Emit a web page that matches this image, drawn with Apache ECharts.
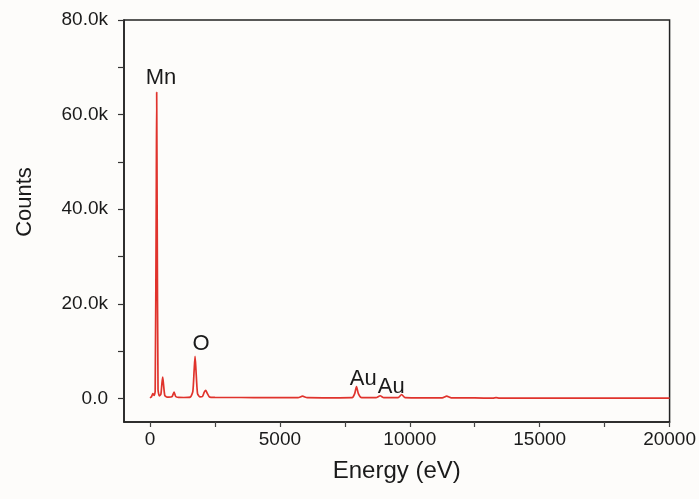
<!DOCTYPE html>
<html>
<head>
<meta charset="utf-8">
<script src="https://cdn.jsdelivr.net/npm/echarts@6/dist/echarts.min.js"></script>
<style>
html,body{margin:0;padding:0;background:#fdfcfa;}
#chart{width:699px;height:499px;}
</style>
</head>
<body>
<div id="chart"></div>
<script>
// Spectrum points: energy (eV)
var energy = [0, 60, 110, 160, 200, 240, 258, 276, 310, 360, 420, 460, 490, 520, 570, 640, 720, 850, 925, 990, 1100, 1300, 1550, 1650, 1700, 1735, 1770, 1830, 1920, 2020, 2090, 2145, 2200, 2290, 2500, 3500, 4500, 5700, 5870, 6050, 7000, 7780, 7880, 7950, 8020, 8150, 8700, 8860, 9000, 9550, 9685, 9820, 10500, 11250, 11420, 11600, 12500, 13200, 13320, 13450, 15000, 17000, 20000];
// counts at each energy
var counts = [100, 350, 1000, 600, 1500, 40000, 64700, 40000, 1800, 500, 900, 3200, 4500, 3000, 600, 300, 250, 350, 1300, 400, 200, 180, 250, 1500, 6000, 8900, 6000, 1000, 300, 400, 1300, 1700, 1100, 300, 200, 180, 150, 150, 450, 150, 120, 150, 1000, 2500, 1000, 150, 150, 550, 150, 150, 800, 150, 100, 100, 450, 100, 80, 60, 150, 60, 50, 40, 30];
// Peak annotations
var peakNames = ['Mn', 'O', 'Au', 'Au'];
var peakEnergy = [424, 1965, 8208, 9287];
var peakCounts = [67800, 11600, 4100, 2400];
// ticks
var xTickValues = [0, 2500, 5000, 7500, 10000, 12500, 15000, 17500, 20000];
var xLabelValues = [0, 5000, 10000, 15000, 20000];
var yTickValues = [0, 10000, 20000, 30000, 40000, 50000, 60000, 70000, 80000];
var yLabelValues = [0, 20000, 40000, 60000, 80000];

var seriesData = energy.map(function (e, i) { return [e, counts[i]]; });
var markData = peakNames.map(function (n, i) { return { name: n, coord: [peakEnergy[i], peakCounts[i]] }; });

var font = 'Liberation Sans, Arial, Helvetica, sans-serif';
var chart = echarts.init(document.getElementById('chart'));
chart.setOption({
  backgroundColor: '#fdfcfa',
  animation: false,
  grid: { left: 124, right: 28, top: 20, bottom: 77, show: true, borderColor: '#222', borderWidth: 1.5, backgroundColor: 'transparent' },
  xAxis: {
    type: 'value', min: -1000, max: 20000,
    name: 'Energy (eV)', nameLocation: 'middle', nameGap: 37,
    nameTextStyle: { fontFamily: font, fontSize: 24, color: '#1a1a1a' },
    axisLine: { onZero: false, lineStyle: { color: '#222', width: 1.5 } },
    axisTick: { show: true, length: 5, customValues: xTickValues, lineStyle: { color: '#444', width: 1.2 } },
    axisLabel: {
      customValues: xLabelValues, margin: 8, fontFamily: font, fontSize: 19, color: '#1a1a1a',
      formatter: function (v) { return String(v); }
    },
    splitLine: { show: false }
  },
  yAxis: {
    type: 'value', min: -5000, max: 80000,
    axisLine: { onZero: false, show: true, lineStyle: { color: '#222', width: 1.5 } },
    axisTick: { show: true, length: 6, customValues: yTickValues, lineStyle: { color: '#333', width: 1.2 } },
    axisLabel: {
      customValues: yLabelValues, margin: 16, fontFamily: font, fontSize: 19, color: '#1a1a1a',
      formatter: function (v) { return v === 0 ? '0.0' : (v / 1000).toFixed(1) + 'k'; }
    },
    splitLine: { show: false }
  },
  graphic: [{
    type: 'text', x: 25, y: 202, rotation: Math.PI / 2,
    style: { text: 'Counts', font: '22px ' + font, fill: '#1a1a1a', textAlign: 'center', textVerticalAlign: 'middle' }
  }],
  series: [{
    type: 'line', data: seriesData, symbol: 'none', smooth: 0.2,
    lineStyle: { color: '#e0332c', width: 1.7 },
    markPoint: {
      symbol: 'circle', symbolSize: 1, itemStyle: { color: 'rgba(0,0,0,0)' },
      label: { show: true, position: 'inside', formatter: '{b}', fontFamily: font, fontSize: 22, color: '#1a1a1a' },
      data: markData
    }
  }]
});
</script>
</body>
</html>
